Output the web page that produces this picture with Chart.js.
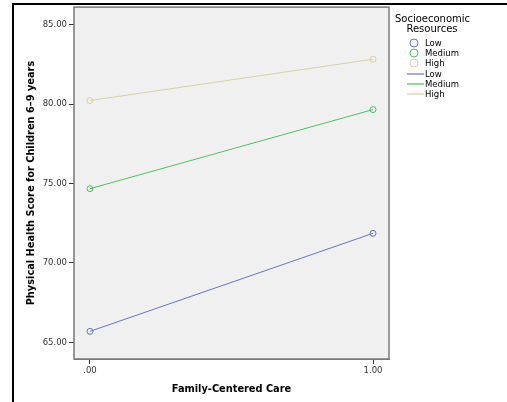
<!DOCTYPE html>
<html>
<head>
<meta charset="utf-8">
<script src="https://cdn.jsdelivr.net/npm/chart.js@4/dist/chart.umd.min.js"></script>
<style>
  html, body { margin: 0; padding: 0; background: #fff; }
  #wrap { position: relative; width: 507px; height: 402px; }
  #frame { position: absolute; left: 12px; top: 3px; right: 0; bottom: 0;
           border-left: 2px solid #000; border-top: 2px solid #000; }
  canvas { position: absolute; left: 0; top: 0; }
</style>
</head>
<body>
<div id="wrap">
  <div id="frame"></div>
  <canvas id="chart" width="507" height="402"></canvas>
</div>
<script>
const familyCare = [0, 1];
const groups = ["Low", "Medium", "High"];
const lowScores = [65.69, 71.86];
const mediumScores = [74.67, 79.65];
const highScores = [80.22, 82.82];
const yTicks = [65, 70, 75, 80, 85];
const xTicks = [0, 1];
const groupColors = ["#6577c4", "#4cc260", "#d8d2a2"];

const FONT = "'DejaVu Sans', sans-serif";

function fmt(v) {
  let s = Number(v).toFixed(2);
  if (s.startsWith("0.")) s = s.slice(1);
  return s;
}

function makeSet(label, values, color) {
  return {
    label: label,
    data: familyCare.map((x, i) => ({ x: x, y: values[i] })),
    borderColor: color,
    backgroundColor: "rgba(0,0,0,0)",
    borderWidth: 1,
    pointRadius: 3,
    pointBorderWidth: 1,
    pointBackgroundColor: "rgba(0,0,0,0)",
    pointBorderColor: color,
    tension: 0
  };
}

// grey plot panel with a frame
const panel = {
  id: "panel",
  beforeDatasetsDraw(chart) {
    const a = chart.chartArea, ctx = chart.ctx;
    ctx.save();
    ctx.fillStyle = "#f0f0f0";
    ctx.fillRect(a.left, a.top, a.right - a.left, a.bottom - a.top);
    ctx.strokeStyle = "#787878";
    ctx.lineWidth = 1.5;
    ctx.strokeRect(a.left, a.top, a.right - a.left, a.bottom - a.top);
    ctx.restore();
  }
};

// SPSS-like legend: markers first, then lines
const sideLegend = {
  id: "sideLegend",
  afterDraw(chart) {
    const ctx = chart.ctx;
    const sets = chart.data.datasets;
    ctx.save();
    ctx.fillStyle = "#000";
    ctx.textBaseline = "middle";
    ctx.textAlign = "center";
    ctx.font = "10px " + FONT;
    ctx.fillText("Socioeconomic", 432.5, 19);
    ctx.fillText("Resources", 432, 29.5);
    ctx.textAlign = "left";
    ctx.font = "8.5px " + FONT;
    sets.forEach((ds, i) => {
      const y = 43 + i * 10;
      ctx.strokeStyle = ds.borderColor;
      ctx.lineWidth = 1;
      ctx.beginPath();
      ctx.arc(414, y, 4, 0, Math.PI * 2);
      ctx.stroke();
      ctx.fillStyle = "#000";
      ctx.fillText(ds.label, 425, y + 0.5);
    });
    sets.forEach((ds, i) => {
      const y = 74 + i * 10;
      ctx.strokeStyle = ds.borderColor;
      ctx.lineWidth = 1.2;
      ctx.beginPath();
      ctx.moveTo(407, y);
      ctx.lineTo(424, y);
      ctx.stroke();
      ctx.fillStyle = "#000";
      ctx.fillText(ds.label, 425, y + 0.5);
    });
    ctx.restore();
  }
};

new Chart(document.getElementById("chart"), {
  type: "line",
  data: {
    datasets: [
      makeSet(groups[0], lowScores, groupColors[0]),
      makeSet(groups[1], mediumScores, groupColors[1]),
      makeSet(groups[2], highScores, groupColors[2])
    ]
  },
  options: {
    responsive: false,
    animation: false,
    events: [],
    layout: { padding: { left: 20, top: 7, right: 118, bottom: 0 } },
    plugins: { legend: { display: false }, tooltip: { enabled: false } },
    scales: {
      x: {
        type: "linear",
        min: -0.0565,
        max: 1.0565,
        afterBuildTicks(scale) { scale.ticks = xTicks.map(v => ({ value: v })); },
        afterFit(scale) { scale.height = 43; },
        grid: { drawOnChartArea: false, drawTicks: true, tickLength: 5, tickColor: "#333", tickWidth: 1 },
        border: { display: true, color: "#787878", width: 1 },
        ticks: { callback: v => fmt(v), color: "#333", padding: 2, maxRotation: 0,
                 font: { family: FONT, size: 8.5 } },
        title: { display: true, text: "Family-Centered Care", color: "#000",
                 padding: { top: 0, bottom: 6.4 }, font: { family: FONT, size: 9.8, weight: "bold" } }
      },
      y: {
        min: 63.95,
        max: 86.1,
        afterBuildTicks(scale) { scale.ticks = yTicks.map(v => ({ value: v })); },
        afterFit(scale) { scale.width = 54; },
        grid: { drawOnChartArea: false, drawTicks: true, tickLength: 5, tickColor: "#333", tickWidth: 1 },
        border: { display: true, color: "#787878", width: 1 },
        ticks: { callback: v => fmt(v), color: "#333", padding: 2,
                 font: { family: FONT, size: 8.5 } },
        title: { display: true, text: "Physical Health Score for Children 6–9 years", color: "#000",
                 padding: { top: 5.4, bottom: 0 }, font: { family: FONT, size: 9.8, weight: "bold" } }
      }
    }
  },
  plugins: [panel, sideLegend]
});
</script>
</body>
</html>
